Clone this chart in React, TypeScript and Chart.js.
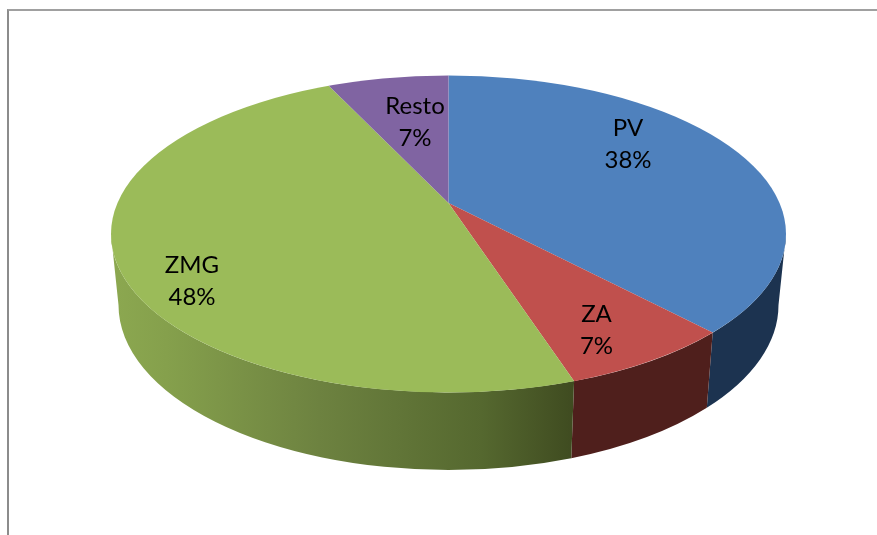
import React, { useEffect, useRef } from "react";
import { Chart, registerables } from "chart.js";

Chart.register(...registerables);

const categories = ["PV", "ZA", "ZMG", "Resto"];
const shares = [38, 7, 48, 7];
const topColors = ["#4F81BD", "#C0504D", "#9BBB59", "#8064A2"];

// Each wall gradient is [offset, colour] along the x extent of the front of the pie.
const wallStops: [number, string][][] = [
  [[0, "#1C3350"], [1, "#1C3350"]],
  [[0, "#4F1F1C"], [1, "#4F1F1C"]],
  [[0, "#8CA850"], [0.12, "#85A04C"], [0.45, "#6D8240"], [0.8, "#55682F"], [1, "#3F4B20"]],
  [[0, "#4A3A60"], [1, "#4A3A60"]],
];

// Projection of the tilted pie: apex of the wedges, top rim and bottom rim.
const apex = { x: 448.5, y: 203 };
const tiltRatio = 1 / 2.17;
const topRim = { cx: 448.5, cy: 234, rx: 337.5, ry: 158.5 };
const bottomRim = { cx: 448.5, cy: 305, rx: 330, ry: 165 };
const wedgeReach = 900;
const labelAnchors = [
  { x: 628, y: 144 },
  { x: 596.5, y: 330 },
  { x: 192, y: 281 },
  { x: 415, y: 122.5 },
];
const labelLineGap = 32;
const labelFont = "24px Lato";

// Where the ray from the apex at a chart angle meets the top rim, as an ellipse parameter.
function rimParam(angle: number) {
  const dx = Math.cos(angle);
  const dy = Math.sin(angle) * tiltRatio;
  const ox = (apex.x - topRim.cx) / topRim.rx;
  const oy = (apex.y - topRim.cy) / topRim.ry;
  const ux = dx / topRim.rx;
  const uy = dy / topRim.ry;
  const a = ux * ux + uy * uy;
  const b = 2 * (ox * ux + oy * uy);
  const c = ox * ox + oy * oy - 1;
  const s = (-b + Math.sqrt(b * b - 4 * a * c)) / (2 * a);
  return Math.atan2(oy + uy * s, ox + ux * s);
}

function rimOffset(t: number) {
  return Math.cos(t) * topRim.rx;
}

const pie3d = {
  id: "pie3d",
  beforeDatasetsDraw(chart: Chart) {
    const ctx = chart.ctx;
    const arcs = chart.getDatasetMeta(0).data as any[];
    const frontStart = 0;
    const frontEnd = Math.PI;

    arcs.forEach((arc, i) => {
      const t0 = rimParam(arc.startAngle);
      let t1 = rimParam(arc.endAngle);
      if (t1 <= t0) t1 += Math.PI * 2;
      const from = Math.max(t0, frontStart);
      const to = Math.min(t1, frontEnd);
      if (to <= from) return;
      const grad = ctx.createLinearGradient(
        topRim.cx - topRim.rx, 0,
        i === 2 ? topRim.cx + rimOffset(t0) : topRim.cx + topRim.rx, 0
      );
      wallStops[i].forEach(([o, c]) => grad.addColorStop(o, c));
      ctx.save();
      ctx.beginPath();
      ctx.ellipse(topRim.cx, topRim.cy, topRim.rx, topRim.ry, 0, from, to);
      ctx.ellipse(bottomRim.cx, bottomRim.cy, bottomRim.rx, bottomRim.ry, 0, to, from, true);
      ctx.closePath();
      ctx.fillStyle = grad;
      ctx.fill();
      ctx.restore();
    });

    const first = arcs[0];
    const k = wedgeReach / first.outerRadius;
    ctx.save();
    ctx.beginPath();
    ctx.ellipse(topRim.cx, topRim.cy, topRim.rx, topRim.ry, 0, 0, Math.PI * 2);
    ctx.clip();
    ctx.translate(apex.x, apex.y);
    ctx.scale(k, k * tiltRatio);
    ctx.translate(-first.x, -first.y);
  },
  afterDatasetsDraw(chart: Chart) {
    const ctx = chart.ctx;
    ctx.restore();
    ctx.save();
    ctx.font = labelFont;
    ctx.fillStyle = "#000000";
    ctx.textAlign = "center";
    ctx.textBaseline = "middle";
    const total = shares.reduce((a, b) => a + b, 0);
    categories.forEach((name, i) => {
      const p = labelAnchors[i];
      ctx.fillText(name, p.x, p.y - labelLineGap / 2);
      ctx.fillText(`${Math.round((shares[i] / total) * 100)}%`, p.x, p.y + labelLineGap / 2);
    });
    ctx.restore();
  },
};

export default function App() {
  const ref = useRef<HTMLCanvasElement>(null);
  useEffect(() => {
    document.body.style.margin = "0";
    const chart = new Chart(ref.current!, {
      type: "pie",
      data: {
        labels: categories,
        datasets: [{ data: shares, backgroundColor: topColors, borderWidth: 0, hoverOffset: 0 }],
      },
      options: {
        responsive: false,
        animation: false,
        events: [],
        layout: { padding: 0 },
        plugins: { legend: { display: false }, tooltip: { enabled: false }, title: { display: false } },
      },
      plugins: [pie3d],
    } as any);
    return () => chart.destroy();
  }, []);
  return (
    <div style={{ position: "relative", width: 877, height: 535, overflow: "hidden", background: "#fff" }}>
      <div
        style={{
          position: "absolute",
          left: 7,
          top: 9,
          width: 880,
          height: 540,
          borderLeft: "2px solid #8C8C8C",
          borderTop: "2px solid #A0A0A0",
        }}
      />
      <canvas ref={ref} width={877} height={535} style={{ position: "absolute", left: 0, top: 0 }} />
    </div>
  );
}
